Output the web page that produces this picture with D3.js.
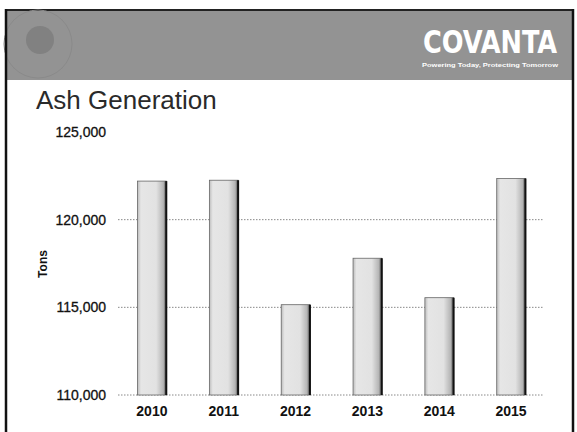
<!DOCTYPE html>
<html>
<head>
<style>
  body { margin: 0; background: #fff; }
  svg { display: block; }
</style>
<script src="https://d3js.org/d3.v7.min.js"></script>
</head>
<body>
<script>
// values
const years = ["2010", "2011", "2012", "2013", "2014", "2015"];
const ashTons = [122200, 122250, 115150, 117800, 115550, 122350];
const yTicks = [110000, 115000, 120000, 125000];
const gridTicks = [110000, 115000, 120000];

const w = 577, h = 432;
const svg = d3.select("body").append("svg")
  .attr("width", w).attr("height", h);

const defs = svg.append("defs");
const grad = defs.append("linearGradient").attr("id", "barGrad")
  .attr("x1", "0%").attr("x2", "100%").attr("y1", "0%").attr("y2", "0%");
grad.append("stop").attr("offset", "0%").attr("stop-color", "#bdbdbd");
grad.append("stop").attr("offset", "12%").attr("stop-color", "#e6e6e6");
grad.append("stop").attr("offset", "65%").attr("stop-color", "#e2e2e2");
grad.append("stop").attr("offset", "90%").attr("stop-color", "#b4b4b4");
grad.append("stop").attr("offset", "100%").attr("stop-color", "#444");

// header band
svg.append("rect").attr("x", 6).attr("y", 10).attr("width", 567).attr("height", 70)
  .attr("fill", "#939393");
svg.append("line").attr("x1", 6).attr("x2", 573).attr("y1", 10).attr("y2", 10)
  .attr("stroke", "#222").attr("stroke-width", 2);

// faint seal at the left
svg.append("circle").attr("cx", 38).attr("cy", 44).attr("r", 34)
  .attr("fill", "none").attr("stroke", "#8a8a8a").attr("stroke-width", 1);
svg.append("circle").attr("cx", 40).attr("cy", 40).attr("r", 14)
  .attr("fill", "#707070").attr("opacity", 0.5);

// logo
svg.append("text").attr("x", 423).attr("y", 53)
  .attr("textLength", 134).attr("lengthAdjust", "spacingAndGlyphs")
  .style("font-family", "DejaVu Sans Condensed, DejaVu Sans")
  .style("font-weight", "bold").style("font-size", "32px")
  .attr("fill", "#fff").text("COVANTA");
svg.append("text").attr("x", 422).attr("y", 67)
  .attr("textLength", 136).attr("lengthAdjust", "spacingAndGlyphs")
  .style("font-family", "Liberation Sans").style("font-weight", "bold")
  .style("font-size", "5.5px").attr("fill", "#fff")
  .text("Powering Today, Protecting Tomorrow");

// slide frame
svg.append("line").attr("x1", 6).attr("x2", 6).attr("y1", 9).attr("y2", h)
  .attr("stroke", "#111").attr("stroke-width", 2.5);
svg.append("line").attr("x1", 573).attr("x2", 573).attr("y1", 9).attr("y2", h)
  .attr("stroke", "#111").attr("stroke-width", 2.5);

// title
svg.append("text").attr("x", 36).attr("y", 109)
  .style("font-family", "Liberation Sans").style("font-size", "26px")
  .attr("fill", "#2a2a2a").text("Ash Generation");

const x = d3.scaleBand().domain(years).range([116, 547]).paddingInner(0.6).paddingOuter(0.3);
const y = d3.scaleLinear().domain([110000, 125000]).range([395, 132]);

// dotted gridlines
svg.selectAll("line.grid").data(gridTicks).enter().append("line")
  .attr("class", "grid")
  .attr("x1", 118).attr("x2", 543)
  .attr("y1", d => y(d)).attr("y2", d => y(d))
  .attr("stroke", "#888").attr("stroke-width", 1)
  .attr("stroke-dasharray", "1.5,1.5");

// y axis labels
const yAxis = d3.axisLeft(y).tickValues(yTicks).tickSize(0).tickPadding(0)
  .tickFormat(d3.format(","));
const yg = svg.append("g").attr("transform", "translate(106,0)").call(yAxis);
yg.select(".domain").remove();
yg.selectAll("text").style("font-family", "Liberation Sans")
  .style("font-size", "14px").attr("fill", "#111")
  .attr("stroke", "#111").attr("stroke-width", 0.3);

svg.append("text")
  .attr("transform", "translate(47,264) rotate(-90)")
  .attr("text-anchor", "middle")
  .style("font-family", "Liberation Sans").style("font-weight", "bold")
  .style("font-size", "12px").attr("fill", "#111").text("Tons");

// bars
const bars = svg.selectAll("g.bar").data(years).enter().append("g").attr("class", "bar");
bars.append("rect")
  .attr("x", d => x(d)).attr("width", x.bandwidth())
  .attr("y", (d, i) => y(ashTons[i]))
  .attr("height", (d, i) => y(110000) - y(ashTons[i]))
  .attr("fill", "url(#barGrad)").attr("stroke", "#666").attr("stroke-width", 0.8);
bars.append("line")
  .attr("x1", d => x(d) + x.bandwidth()).attr("x2", d => x(d) + x.bandwidth())
  .attr("y1", (d, i) => y(ashTons[i])).attr("y2", y(110000))
  .attr("stroke", "#111").attr("stroke-width", 2);

// x axis labels
const xAxis = d3.axisBottom(x).tickSize(0).tickPadding(0);
const xg = svg.append("g").attr("transform", "translate(0,406)").call(xAxis);
xg.select(".domain").remove();
xg.selectAll("text").style("font-family", "Liberation Sans").style("font-weight", "bold")
  .style("font-size", "14px").attr("fill", "#111");
</script>
</body>
</html>
